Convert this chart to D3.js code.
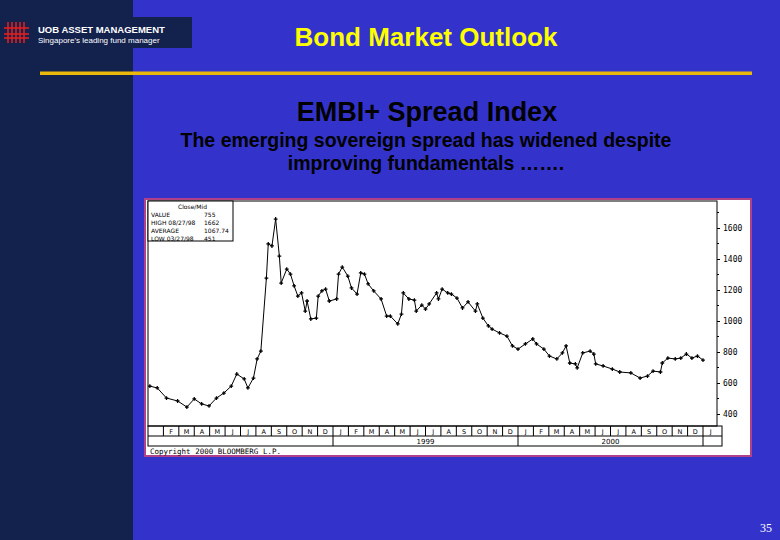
<!DOCTYPE html>
<html><head><meta charset="utf-8">
<script src="https://cdn.jsdelivr.net/npm/d3@7"></script>
<style>body{margin:0;}svg{display:block;}</style>
</head><body>
<script>
const years = [1998.01,1998.05,1998.10,1998.16,1998.21,1998.25,1998.29,1998.33,1998.37,1998.41,1998.45,1998.48,1998.52,1998.54,1998.57,1998.59,1998.61,1998.64,1998.65,1998.67,1998.69,1998.71,1998.72,1998.75,1998.77,1998.79,1998.81,1998.83,1998.85,1998.86,1998.88,1998.91,1998.92,1998.94,1998.96,1998.98,1999.02,1999.03,1999.05,1999.08,1999.10,1999.13,1999.15,1999.17,1999.19,1999.22,1999.26,1999.29,1999.31,1999.35,1999.37,1999.38,1999.41,1999.44,1999.45,1999.48,1999.50,1999.52,1999.56,1999.57,1999.59,1999.62,1999.64,1999.67,1999.70,1999.73,1999.77,1999.78,1999.81,1999.84,1999.86,1999.90,1999.94,1999.97,2000.00,2000.04,2000.08,2000.10,2000.14,2000.17,2000.21,2000.24,2000.26,2000.28,2000.31,2000.32,2000.35,2000.39,2000.41,2000.42,2000.46,2000.51,2000.55,2000.61,2000.66,2000.70,2000.73,2000.77,2000.78,2000.81,2000.85,2000.88,2000.91,2000.94,2000.97,2001.00];
const spread = [580,568,503,484,445,497,465,452,503,535,580,658,626,568,632,755,806,1277,1497,1484,1658,1419,1245,1335,1303,1226,1161,1181,1064,1129,1013,1019,1161,1194,1206,1129,1142,1303,1348,1290,1213,1174,1310,1303,1239,1194,1142,1032,1032,981,1045,1181,1142,1135,1064,1103,1077,1110,1181,1142,1206,1181,1174,1148,1084,1123,1064,1110,1019,968,948,923,903,839,819,852,884,852,819,774,755,794,839,729,723,697,794,806,787,723,710,690,671,665,632,645,677,671,729,761,755,761,787,761,774,748];
const yTicks = [400,600,800,1000,1200,1400,1600];
const monthLetters = ["J","F","M","A","M","J","J","A","S","O","N","D"];
const yearLabels = [1999,2000];
const legendRows = [["Close/Mid",""],["VALUE","755"],["HIGH 08/27/98","1662"],["AVERAGE","1067.74"],["LOW 03/27/98","451"]];

const W=780,H=540;
const svg=d3.select("body").append("svg").attr("width",W).attr("height",H);
svg.append("rect").attr("width",W).attr("height",H).attr("fill","#3333cc");
svg.append("rect").attr("width",133).attr("height",H).attr("fill","#13214d");
svg.append("rect").attr("x",0).attr("y",17).attr("width",192).attr("height",31).attr("fill","#13214d");
const lg=svg.append("g").attr("stroke","#e02020").attr("stroke-width",1.6);
[8,12,16,20,24].forEach(x=>lg.append("line").attr("x1",x).attr("x2",x).attr("y1",22).attr("y2",43));
[28,34,38].forEach(y=>lg.append("line").attr("x1",4).attr("x2",29).attr("y1",y).attr("y2",y));
svg.append("text").attr("x",38).attr("y",33).attr("fill","#fff").attr("font-family","Liberation Sans").attr("font-weight","bold").attr("font-size",9.5).text("UOB ASSET MANAGEMENT");
svg.append("text").attr("x",38).attr("y",43).attr("fill","#fff").attr("font-family","Liberation Sans").attr("font-size",8).text("Singapore's leading fund manager");
svg.append("text").attr("x",426).attr("y",46).attr("text-anchor","middle").attr("fill","#ffff00").attr("font-family","Liberation Sans").attr("font-weight","bold").attr("font-size",26).text("Bond Market Outlook");
svg.append("rect").attr("x",40).attr("y",71.5).attr("width",712).attr("height",3.5).attr("fill","#e8b80a");
svg.append("text").attr("x",427).attr("y",121).attr("text-anchor","middle").attr("fill","#000").attr("font-family","Liberation Sans").attr("font-weight","bold").attr("font-size",27).text("EMBI+ Spread Index");
svg.append("text").attr("x",426).attr("y",147).attr("text-anchor","middle").attr("fill","#000").attr("font-family","Liberation Sans").attr("font-weight","bold").attr("font-size",19.5).text("The emerging sovereign spread has widened despite");
svg.append("text").attr("x",426).attr("y",170).attr("text-anchor","middle").attr("fill","#000").attr("font-family","Liberation Sans").attr("font-weight","bold").attr("font-size",19.5).text("improving fundamentals …….");
svg.append("text").attr("x",772).attr("y",532).attr("text-anchor","end").attr("fill","#fff").attr("font-family","Liberation Serif").attr("font-size",12).text("35");

svg.append("rect").attr("x",145).attr("y",199).attr("width",606).attr("height",257).attr("fill","#fff").attr("stroke","#b04088").attr("stroke-width",2);
const L=148,R=717,T=201,B=426;
const x=d3.scaleLinear().domain([1998,1998+(R-L)/185]).range([L,R]);
const y=d3.scaleLinear().domain([400,1600]).range([414,228]);
const g=svg.append("g");
g.append("rect").attr("x",L).attr("y",T).attr("width",R-L).attr("height",B-T).attr("fill","none").attr("stroke","#000").attr("stroke-width",1);
const ax=d3.axisRight(y).tickValues(yTicks).tickSize(3).tickFormat(d3.format("d"));
const ag=g.append("g").attr("transform",`translate(${R},0)`).call(ax);
ag.select(".domain").remove();
ag.selectAll("text").attr("font-family","DejaVu Sans Mono").attr("font-size",8).attr("x",6);
g.selectAll(".mt").data(d3.range(500,1800,200)).join("line").attr("x1",R).attr("x2",R+2).attr("y1",d=>y(d)).attr("y2",d=>y(d)).attr("stroke","#000");
g.append("rect").attr("x",L).attr("y",T).attr("width",85).attr("height",40).attr("fill","#fff").attr("stroke","#000");
legendRows.forEach((r,i)=>{
  g.append("text").attr("x",i===0?178:151).attr("y",T+8+i*8).attr("font-family","DejaVu Sans").attr("font-size",6).text(r[0]);
  g.append("text").attr("x",204).attr("y",T+8+i*8).attr("font-family","DejaVu Sans").attr("font-size",6).text(r[1]);
});
const pts=years.map((t,i)=>[t,spread[i]]);
g.append("path").datum(pts).attr("fill","none").attr("stroke","#000").attr("stroke-width",1)
 .attr("d",d3.line().x(d=>x(d[0])).y(d=>y(d[1])));
g.selectAll(".pt").data(pts).join("path").attr("transform",d=>`translate(${x(d[0])},${y(d[1])})`)
 .attr("d",d3.symbol(d3.symbolCross,8)).attr("fill","#000");
const mB=436, yB=446;
g.append("rect").attr("x",L).attr("y",B).attr("width",R-L+5).attr("height",yB-B).attr("fill","none").attr("stroke","#000");
g.append("line").attr("x1",L).attr("x2",R+5).attr("y1",mB).attr("y2",mB).attr("stroke","#000");
const months=d3.range(0,37).map(i=>({i,t:1998+i/12}));
months.forEach(m=>{
  const x0=x(m.t), x1=Math.min(x(m.t+1/12),R+5);
  if(x0>L && x0<R+5) g.append("line").attr("x1",x0).attr("x2",x0).attr("y1",B).attr("y2",mB).attr("stroke","#000");
  if(m.i>0 && x0<R) g.append("text").attr("x",(x0+x1)/2).attr("y",B+8).attr("text-anchor","middle").attr("font-family","DejaVu Sans").attr("font-size",6.5).text(monthLetters[m.i%12]);
});
[1999,2000,2001].forEach(t=>g.append("line").attr("x1",x(t)).attr("x2",x(t)).attr("y1",mB).attr("y2",yB).attr("stroke","#000"));
yearLabels.forEach(t=>g.append("text").attr("x",x(t+0.5)).attr("y",yB-2).attr("text-anchor","middle").attr("font-family","DejaVu Sans").attr("font-size",7).text(t));
g.append("text").attr("x",L+2).attr("y",454).attr("font-family","DejaVu Sans Mono").attr("font-size",7.5).text("Copyright 2000 BLOOMBERG L.P.");
</script>
</body></html>
